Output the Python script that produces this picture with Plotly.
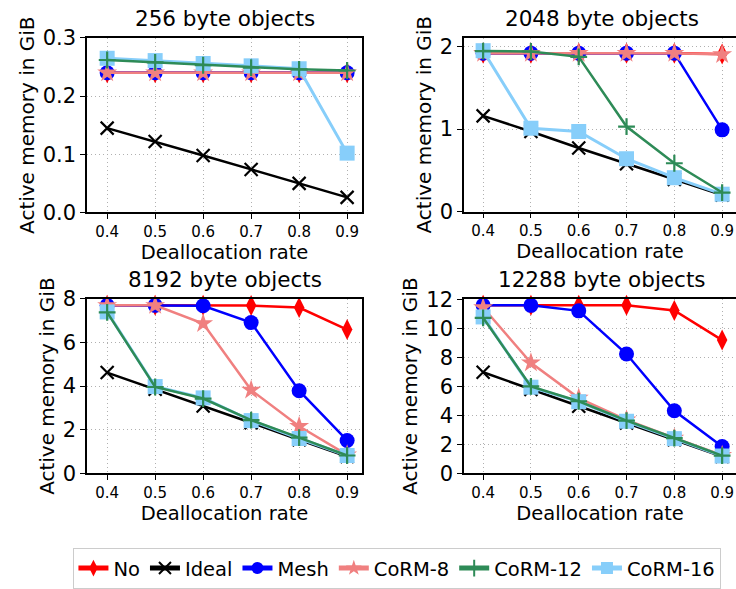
import plotly.graph_objects as go

W, H = 736, 589

rates = [0.4, 0.5, 0.6, 0.7, 0.8, 0.9]
series_names = ["No", "Ideal", "Mesh", "CoRM-8", "CoRM-12", "CoRM-16"]

titles = ["256 byte objects", "2048 byte objects", "8192 byte objects", "12288 byte objects"]

# 256 byte objects
no_256 = [0.240, 0.240, 0.240, 0.240, 0.240, 0.240]
ideal_256 = [0.145, 0.122, 0.098, 0.074, 0.050, 0.026]
mesh_256 = [0.240, 0.240, 0.240, 0.240, 0.240, 0.240]
corm8_256 = [0.240, 0.240, 0.240, 0.240, 0.240, 0.240]
corm12_256 = [0.262, 0.258, 0.253, 0.249, 0.246, 0.244]
corm16_256 = [0.265, 0.261, 0.256, 0.252, 0.247, 0.102]

# 2048 byte objects
no_2048 = [1.92, 1.92, 1.92, 1.92, 1.92, 1.91]
ideal_2048 = [1.16, 0.97, 0.77, 0.58, 0.39, 0.20]
mesh_2048 = [1.92, 1.92, 1.92, 1.92, 1.92, 0.99]
corm8_2048 = [1.92, 1.92, 1.92, 1.92, 1.92, 1.905]
corm12_2048 = [1.945, 1.94, 1.875, 1.03, 0.585, 0.23]
corm16_2048 = [1.95, 1.01, 0.97, 0.64, 0.41, 0.21]

# 8192 byte objects
no_8192 = [7.70, 7.70, 7.70, 7.69, 7.60, 6.59]
ideal_8192 = [4.62, 3.86, 3.09, 2.32, 1.54, 0.77]
mesh_8192 = [7.70, 7.70, 7.68, 6.91, 3.79, 1.51]
corm8_8192 = [7.70, 7.70, 6.87, 3.82, 2.16, 0.85]
corm12_8192 = [7.38, 3.96, 3.43, 2.44, 1.64, 0.82]
corm16_8192 = [7.40, 3.98, 3.46, 2.42, 1.60, 0.82]

# 12288 byte objects
no_12288 = [11.60, 11.60, 11.60, 11.60, 11.25, 9.20]
ideal_12288 = [6.98, 5.80, 4.64, 3.48, 2.32, 1.16]
mesh_12288 = [11.60, 11.60, 11.22, 8.24, 4.32, 1.85]
corm8_12288 = [11.45, 7.63, 5.20, 3.70, 2.45, 1.25]
corm12_12288 = [10.74, 6.00, 4.98, 3.64, 2.44, 1.23]
corm16_12288 = [10.80, 5.95, 4.95, 3.60, 2.40, 1.20]

panels = [
    [no_256, ideal_256, mesh_256, corm8_256, corm12_256, corm16_256],
    [no_2048, ideal_2048, mesh_2048, corm8_2048, corm12_2048, corm16_2048],
    [no_8192, ideal_8192, mesh_8192, corm8_8192, corm12_8192, corm16_8192],
    [no_12288, ideal_12288, mesh_12288, corm8_12288, corm12_12288, corm16_12288],
]

y_ranges = [[0, 0.3], [0, 2.105], [0, 8.0], [0, 12.05]]
y_ticks = [[0.0, 0.1, 0.2, 0.3], [0, 1, 2], [0, 2, 4, 6, 8], [0, 2, 4, 6, 8, 10, 12]]
y_fmt = [".1f", "d", "d", "d"]

colors = ["#ff0000", "#000000", "#0000ff", "#f08080", "#2e8b57", "#87cefa"]
symbols = ["diamond-tall", "x-thin-open", "circle", "star", "cross-thin-open", "square"]
msizes = [15, 13, 15, 15, 12, 15]
lwidths = [2.5, 2.5, 2.5, 2.5, 2.5, 3]
draw_order = [0, 1, 2, 3, 5, 4]

FONT = "DejaVu Sans"

# pixel boxes of axes: (left, right, top, bottom)
boxes = [(87, 362, 27, 209), (464, 736, 27, 208), (87, 362, 299, 481), (464, 736, 299, 481)]
x_ranges = [[0.358, 0.931], [0.36, 0.929], [0.358, 0.931], [0.36, 0.929]]

fig = go.Figure()
layout = {}
annotations = []

for p in range(4):
    l, r, t, b = boxes[p]
    sfx = "" if p == 0 else str(p + 1)
    xa, ya = "x" + sfx, "y" + sfx
    for k in draw_order:
        fig.add_trace(go.Scatter(
            x=rates, y=panels[p][k], xaxis=xa, yaxis=ya,
            mode="lines+markers", name=series_names[k],
            legendgroup=series_names[k], showlegend=(p == 0), legendrank=k + 1,
            line=dict(color=colors[k], width=lwidths[k]),
            marker=dict(symbol=symbols[k], size=msizes[k], color=colors[k],
                        line=dict(color=colors[k], width=2.2 if "thin" in symbols[k] else 0)),
            cliponaxis=False,
        ))
    right_side = p in (1, 3)
    layout["xaxis" + sfx] = dict(
        domain=[l / W, r / W], anchor=ya, range=x_ranges[p],
        tickvals=rates, ticktext=[f"{v:.1f}" for v in rates],
        ticks="outside", ticklen=5, tickwidth=1.2, tickcolor="black",
        showline=True, linecolor="black", linewidth=1.5, mirror=True,
        showgrid=True, gridcolor="#b0b0b0", griddash="1px,3px", gridwidth=1.2,
        zeroline=False,
        tickfont=dict(family=FONT, size=15, color="black"),
        title=dict(text="Deallocation rate", font=dict(family=FONT, size=19.5, color="black"), standoff=5),
    )
    layout["yaxis" + sfx] = dict(
        domain=[1 - b / H, 1 - t / H], anchor=xa, range=y_ranges[p],
        tickvals=y_ticks[p], tickformat=y_fmt[p],
        ticks="outside", ticklen=5, tickwidth=1.2, tickcolor="black",
        showline=True, linecolor="black", linewidth=1.5, mirror=(not right_side),
        showgrid=True, gridcolor="#b0b0b0", griddash="1px,3px", gridwidth=1.2,
        zeroline=False,
        tickfont=dict(family=FONT, size=21, color="black"),
        title=dict(text="Active memory in GiB", font=dict(family=FONT, size=20, color="black"), standoff=3),
    )
    annotations.append(dict(
        text=titles[p], xref="paper", yref="paper",
        x=((l + (r if not right_side else 740)) / 2) / W, y=1 - (t - 5) / H,
        xanchor="center", yanchor="bottom", showarrow=False,
        font=dict(family=FONT, size=21.5, color="black"),
    ))

fig.update_layout(
    width=W, height=H,
    margin=dict(l=0, r=0, t=0, b=0),
    paper_bgcolor="white", plot_bgcolor="white",
    font=dict(family=FONT, color="black"),
    annotations=annotations,
    showlegend=True,
    legend=dict(
        orientation="h", x=0.54, xanchor="center", y=1 - 580 / H, yanchor="middle",
        font=dict(family=FONT, size=19.5, color="black"),
        bordercolor="#cccccc", borderwidth=1, bgcolor="white",
        itemsizing="constant", tracegroupgap=0, itemwidth=30,
    ),
    **layout,
)

fig.write_html("out.html")
